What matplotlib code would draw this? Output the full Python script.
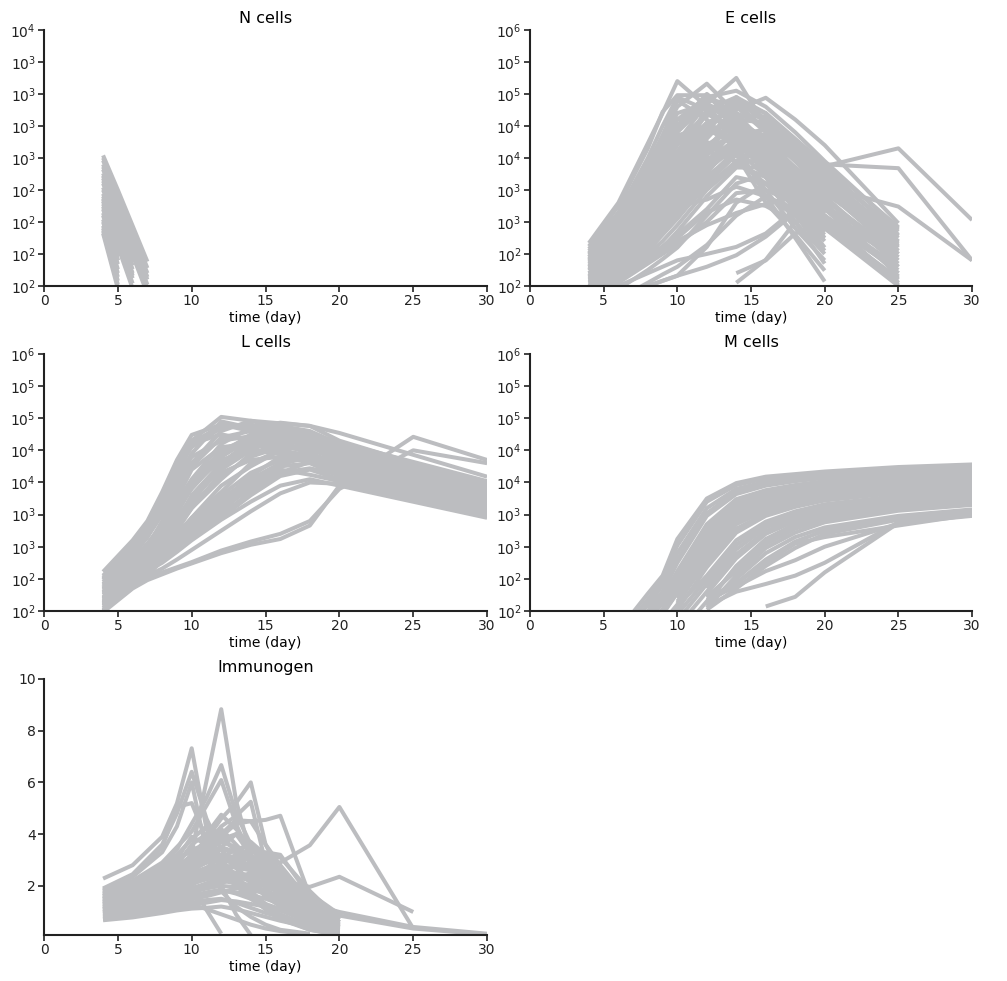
import matplotlib

matplotlib.use("Agg")

import matplotlib.pyplot as plt
import numpy as np
from matplotlib.ticker import FuncFormatter, MultipleLocator

nan = np.nan

# all cell counts are stored as log10 values; immunogen is on a linear scale
N_DAYS = [4, 5, 6, 7]
N_CELLS = [
    [3.02, 2.75, 2.47, 2.19],
    [3.00, 2.72, 2.43, 2.14],
    [2.98, 2.69, 2.39, 2.10],
    [2.95, 2.66, 2.37, 2.07],
    [2.93, 2.64, 2.34, 2.05],
    [2.91, 2.61, 2.31, 2.01],
    [2.88, 2.58, 2.28, 1.98],
    [2.84, 2.54, 2.24, 1.94],
    [2.86, 2.47, 2.08, nan],
    [2.82, 2.52, 2.22, nan],
    [2.80, 2.50, 2.19, nan],
    [2.77, 2.47, 2.16, nan],
    [2.75, 2.44, 2.13, nan],
    [2.72, 2.41, 2.10, nan],
    [2.70, 2.38, 2.06, nan],
    [2.66, 2.34, 2.02, nan],
    [2.64, 2.31, 1.98, nan],
    [2.62, 2.28, nan, nan],
    [2.60, 2.23, nan, nan],
    [2.57, 2.20, nan, nan],
    [2.55, 2.17, nan, nan],
    [2.52, 2.13, nan, nan],
    [2.50, 2.10, nan, nan],
    [2.47, 2.07, nan, nan],
    [2.45, 2.04, nan, nan],
    [2.43, 2.01, nan, nan],
    [2.41, 1.98, nan, nan],
    [2.68, 2.20, nan, nan],
]

E_DAYS = [4, 6, 8, 9, 10, 12, 14, 16, 18, 20, 25, 30]
E_CELLS = [
    [2.67, 3.30, 4.23, 4.70, 5.20, 4.80, 4.35, 3.95, 3.50, 3.00, nan, nan],
    [2.62, 3.25, 4.15, 4.72, 4.98, 4.98, 4.55, 4.10, 3.62, 3.13, nan, nan],
    [2.58, 3.15, 4.00, 4.50, 4.95, 4.75, 4.30, 3.85, 3.35, 2.85, nan, nan],
    [2.50, 3.05, 3.85, 4.35, 4.90, 4.60, 4.15, 3.70, 3.20, 2.70, nan, nan],
    [2.55, 3.10, 3.90, 4.35, 4.80, 5.16, 4.70, 4.20, 3.70, 3.05, nan, nan],
    [2.40, 2.90, 3.60, 4.05, 4.50, 5.00, 4.65, 4.25, 3.80, 3.35, 2.50, nan],
    [2.30, 2.75, 3.40, 3.80, 4.25, 4.85, 4.50, 4.05, 3.55, 3.05, 2.05, nan],
    [2.20, 2.60, 3.20, 3.60, 4.00, 4.70, 4.40, 3.90, 3.40, 2.85, nan, nan],
    [2.45, 2.95, 3.60, 4.00, 4.40, 4.85, 5.25, 4.50, 3.75, 3.00, nan, nan],
    [2.35, 2.80, 3.40, 3.75, 4.10, 4.55, 4.75, 4.94, 4.60, 4.20, 2.98, nan],
    [2.25, 2.65, 3.20, 3.55, 3.90, 4.40, 4.95, 4.60, 4.15, 3.70, 2.75, nan],
    [2.15, 2.50, 3.00, 3.35, 3.70, 4.30, 4.80, 4.40, 3.95, 3.50, 2.50, nan],
    [2.10, 2.40, 2.85, 3.15, 3.50, 4.10, 4.60, 4.30, 3.85, 3.40, 2.30, nan],
    [2.05, 2.30, 2.70, 3.00, 3.30, 3.90, 4.50, 4.20, 3.75, 3.30, 2.15, nan],
    [2.40, 2.85, 3.45, 3.85, 4.20, 4.70, 4.40, 3.70, 3.00, 2.35, nan, nan],
    [2.30, 2.70, 3.25, 3.60, 3.95, 4.45, 4.20, 3.40, 2.75, 2.07, nan, nan],
    [2.20, 2.55, 3.05, 3.40, 3.75, 4.25, 4.05, 3.30, 2.80, 2.24, nan, nan],
    [2.00, 2.30, 2.75, 3.05, 3.40, 4.00, 4.10, 3.50, 2.90, 2.40, nan, nan],
    [2.12, 2.45, 2.95, 3.30, 3.65, 4.20, 4.30, 3.80, 3.20, 2.60, nan, nan],
    [2.28, 2.62, 3.10, 3.45, 3.80, 4.35, 4.60, 4.55, 4.20, 3.80, 2.85, nan],
    [2.18, 2.48, 2.90, 3.20, 3.50, 4.05, 4.40, 4.35, 4.00, 3.60, 2.60, nan],
    [2.08, 2.35, 2.75, 3.00, 3.25, 3.80, 4.20, 4.15, 3.80, 3.40, 2.40, nan],
    [2.02, 2.22, 2.55, 2.80, 3.05, 3.60, 4.05, 4.00, 3.65, 3.20, 2.20, nan],
    [1.95, 2.10, 2.40, 2.60, 2.85, 3.40, 3.85, 3.85, 3.50, 3.10, 2.02, nan],
    [2.10, 2.40, 2.80, 3.00, 3.30, 3.80, 4.20, 4.30, 4.10, 3.87, 4.15, 3.03],
    [2.00, 2.30, 2.70, 2.95, 3.20, 3.70, 4.10, 4.20, 4.00, 3.90, 3.84, 2.40],
    [2.20, 2.50, 2.90, 3.10, 3.40, 3.90, 4.30, 4.10, 3.80, 3.55, 3.24, 2.40],
    [1.70, 1.85, 2.00, 2.08, 2.16, 2.30, 2.48, 2.77, 3.15, 2.90, 2.10, nan],
    [1.60, 1.80, 2.05, 2.18, 2.30, 2.64, 3.10, 3.40, 3.20, 2.80, nan, nan],
    [1.50, 1.75, 2.00, 2.08, 2.16, 2.61, 3.30, 3.60, 3.30, 2.90, 2.00, nan],
    [nan, nan, nan, nan, nan, nan, 2.05, 2.41, 3.00, 3.10, 2.20, nan],
    [nan, nan, nan, nan, nan, nan, 2.20, 2.40, 2.82, 3.00, 2.10, nan],
    [1.80, 2.00, 2.20, 2.30, 2.40, 2.50, 2.61, 2.82, 3.20, 3.00, 2.05, nan],
    [1.90, 2.10, 2.40, 2.55, 2.70, 2.95, 3.14, 3.28, 3.40, 3.10, 2.30, nan],
    [2.32, 2.78, 3.50, 3.95, 4.45, 4.90, 4.85, 4.45, 3.95, 3.45, 2.65, nan],
    [2.14, 2.55, 3.15, 3.50, 3.85, 4.50, 4.85, 4.70, 4.30, 3.90, 2.92, nan],
    [2.24, 2.68, 3.30, 3.70, 4.10, 4.75, 4.95, 4.70, 4.25, 3.75, 2.88, nan],
    [2.06, 2.38, 2.90, 3.25, 3.60, 4.15, 4.65, 4.65, 4.25, 3.85, 2.80, nan],
    [1.98, 2.25, 2.60, 2.85, 3.15, 3.75, 4.35, 4.45, 4.05, 3.65, 2.70, nan],
    [2.00, 2.20, 2.50, 2.70, 2.95, 3.50, 3.90, 3.70, 3.30, 2.90, nan, nan],
    [1.90, 2.15, 2.45, 2.62, 2.80, 3.20, 3.70, 3.60, 3.25, 2.95, 2.12, nan],
    [2.05, 2.28, 2.62, 2.85, 3.10, 3.55, 3.95, 3.95, 3.60, 3.25, 2.35, nan],
    [1.85, 2.05, 2.35, 2.50, 2.65, 3.00, 3.45, 3.50, 3.30, 3.00, 2.25, nan],
    [1.75, 1.95, 2.25, 2.42, 2.60, 3.10, 3.60, 3.75, 3.45, 3.05, nan, nan],
    [2.15, 2.45, 2.85, 3.10, 3.35, 3.85, 4.25, 3.90, 3.45, 3.00, nan, nan],
    [2.25, 2.60, 3.05, 3.35, 3.65, 4.10, 3.95, 3.60, 3.10, 2.55, nan, nan],
    [2.35, 2.75, 3.30, 3.65, 4.00, 4.55, 4.25, 3.80, 3.30, 2.75, nan, nan],
    [2.45, 2.95, 3.65, 4.10, 4.60, 4.70, 4.45, 4.00, 3.55, 3.08, 2.45, nan],
    [2.52, 3.05, 3.80, 4.25, 4.70, 4.85, 4.60, 4.20, 3.75, 3.25, 2.55, nan],
    [2.38, 2.85, 3.50, 3.90, 4.30, 4.65, 4.90, 4.55, 4.05, 3.55, 2.68, nan],
    [2.10, 2.45, 2.95, 3.28, 3.60, 4.05, 4.45, 4.20, 3.85, 3.50, 2.55, nan],
    [1.95, 2.20, 2.60, 2.88, 3.15, 3.65, 4.15, 4.05, 3.70, 3.35, 2.45, nan],
    [2.00, 2.25, 2.65, 2.95, 3.25, 3.35, 3.55, 3.40, 3.10, 2.75, nan, nan],
    [1.88, 2.08, 2.38, 2.55, 2.75, 3.15, 3.35, 3.25, 3.00, 2.50, nan, nan],
    [2.42, 2.92, 3.55, 3.95, 4.35, 4.50, 4.20, 3.85, 3.45, 2.95, nan, nan],
    [2.26, 2.66, 3.20, 3.55, 3.90, 4.20, 4.50, 4.35, 3.95, 3.55, 2.62, nan],
    [2.16, 2.52, 3.02, 3.38, 3.75, 4.35, 4.70, 4.50, 4.10, 3.70, 2.78, nan],
    [2.48, 2.98, 3.70, 4.15, 4.60, 4.95, 5.05, 4.80, 4.40, 3.95, 2.90, nan],
    [2.04, 2.34, 2.80, 3.10, 3.42, 3.95, 4.30, 4.10, 3.65, 3.20, nan, nan],
]

L_DAYS = [4, 6, 7, 8, 9, 10, 12, 14, 16, 18, 20, 25, 30]
L_CELLS = [
    [2.61, 3.10, 3.40, 3.85, 4.35, 4.74, 4.90, 4.80, 4.70, 4.62, 4.55, 4.28, 4.00],
    [2.55, 3.05, 3.35, 3.80, 4.30, 4.65, 5.02, 4.96, 4.92, 4.88, 4.77, 4.43, 4.09],
    [2.50, 2.95, 3.25, 3.65, 4.05, 4.45, 4.95, 4.85, 4.75, 4.65, 4.55, 4.25, 3.95],
    [2.45, 2.90, 3.15, 3.50, 3.90, 4.30, 4.80, 4.96, 4.85, 4.70, 4.55, 4.20, 3.90],
    [2.40, 2.80, 3.05, 3.35, 3.70, 4.05, 4.60, 4.85, 4.93, 4.88, 4.65, 4.30, 4.00],
    [2.35, 2.75, 2.95, 3.25, 3.55, 3.90, 4.40, 4.70, 4.80, 4.70, 4.45, 4.15, 3.85],
    [2.30, 2.70, 2.90, 3.15, 3.45, 3.75, 4.25, 4.60, 4.70, 4.55, 4.35, 4.05, 3.75],
    [2.25, 2.62, 2.82, 3.05, 3.30, 3.60, 4.05, 4.45, 4.60, 4.45, 4.25, 3.95, 3.70],
    [2.20, 2.55, 2.75, 2.95, 3.20, 3.45, 3.85, 4.30, 4.50, 4.40, 4.20, 3.90, 3.62],
    [2.15, 2.50, 2.70, 2.90, 3.10, 3.30, 3.70, 4.10, 4.40, 4.35, 4.15, 3.85, 3.58],
    [2.10, 2.45, 2.65, 2.85, 3.05, 3.20, 3.55, 3.95, 4.25, 4.30, 4.10, 3.80, 3.52],
    [2.05, 2.40, 2.60, 2.80, 3.00, 3.15, 3.45, 3.80, 4.10, 4.20, 4.05, 3.78, 3.50],
    [2.38, 2.85, 3.15, 3.60, 4.10, 4.60, 4.75, 4.65, 4.55, 4.50, 4.40, 4.10, 3.82],
    [2.28, 2.68, 2.95, 3.30, 3.75, 4.20, 4.55, 4.60, 4.50, 4.42, 4.33, 4.02, 3.72],
    [2.12, 2.52, 2.78, 3.10, 3.50, 3.95, 4.35, 4.50, 4.45, 4.38, 4.28, 3.98, 3.68],
    [2.00, 2.38, 2.62, 2.90, 3.25, 3.60, 4.15, 4.35, 4.40, 4.32, 4.22, 3.92, 3.65],
    [2.48, 2.98, 3.28, 3.72, 4.20, 4.55, 4.85, 4.90, 4.82, 4.75, 4.62, 4.32, 4.02],
    [2.33, 2.72, 3.00, 3.40, 3.85, 4.25, 4.70, 4.80, 4.75, 4.65, 4.50, 4.18, 3.88],
    [2.18, 2.58, 2.85, 3.20, 3.60, 4.00, 4.50, 4.70, 4.65, 4.58, 4.45, 4.12, 3.80],
    [2.08, 2.45, 2.72, 3.00, 3.35, 3.70, 4.25, 4.55, 4.62, 4.50, 4.38, 4.05, 3.76],
    [2.22, 2.60, 2.82, 3.10, 3.40, 3.80, 4.30, 4.65, 4.88, 4.80, 4.60, 4.22, 3.92],
    [2.02, 2.40, 2.60, 2.85, 3.15, 3.45, 3.95, 4.25, 4.50, 4.60, 4.42, 4.08, 3.78],
    [2.10, 2.44, 2.62, 2.82, 3.02, 3.25, 3.60, 3.90, 4.15, 4.22, 4.12, 3.83, 3.55],
    [2.18, 2.52, 2.70, 2.92, 3.15, 3.40, 3.80, 4.15, 4.35, 4.38, 4.25, 3.95, 3.66],
    [2.26, 2.64, 2.86, 3.10, 3.38, 3.65, 4.10, 4.40, 4.55, 4.52, 4.35, 4.02, 3.74],
    [2.35, 2.78, 3.02, 3.32, 3.65, 4.00, 4.45, 4.75, 4.85, 4.78, 4.58, 4.25, 3.94],
    [2.05, 2.42, 2.64, 2.88, 3.12, 3.35, 3.75, 4.05, 4.30, 4.45, 4.30, 3.96, 3.70],
    [2.14, 2.48, 2.68, 2.90, 3.12, 3.38, 3.68, 4.00, 4.28, 4.40, 4.28, 3.95, 3.64],
    [2.42, 2.88, 3.18, 3.55, 4.00, 4.40, 4.65, 4.72, 4.68, 4.60, 4.48, 4.16, 3.86],
    [2.52, 3.02, 3.32, 3.75, 4.25, 4.62, 4.88, 4.85, 4.78, 4.70, 4.58, 4.28, 3.98],
    [2.20, 2.56, 2.80, 3.08, 3.40, 3.75, 4.20, 4.50, 4.70, 4.62, 4.48, 4.14, 3.84],
    [2.30, 2.68, 2.92, 3.22, 3.58, 3.95, 4.40, 4.68, 4.72, 4.65, 4.52, 4.20, 3.90],
    [2.00, 2.36, 2.56, 2.78, 2.98, 3.20, 3.50, 3.85, 4.15, 4.32, 4.18, 3.88, 3.60],
    [2.12, 2.46, 2.66, 2.88, 3.08, 3.30, 3.62, 3.95, 4.20, 4.12, 4.02, 3.75, 3.50],
    [1.98, 2.35, 2.48, 2.57, 2.66, 2.74, 2.90, 3.03, 3.12, 3.33, 3.95, 4.71, 4.35],
    [2.02, 2.38, 2.50, 2.60, 2.68, 2.76, 2.94, 3.08, 3.20, 3.40, 3.90, 4.50, 4.30],
    [2.08, 2.42, 2.55, 2.66, 2.80, 2.95, 3.25, 3.55, 3.83, 4.00, 3.98, 3.73, 3.47],
    [2.15, 2.48, 2.62, 2.75, 2.92, 3.10, 3.42, 3.70, 3.95, 4.05, 3.95, 3.70, 3.45],
]

M_DAYS = [6, 7, 8, 9, 10, 12, 14, 16, 18, 20, 25, 30]
M_CELLS = [
    [1.60, 1.98, 2.27, 2.55, 3.12, 3.75, 3.99, 4.09, 4.13, 4.17, 4.24, 4.28],
    [1.55, 1.90, 2.18, 2.48, 3.02, 3.70, 3.96, 4.06, 4.11, 4.15, 4.22, 4.26],
    [1.45, 1.80, 2.10, 2.40, 2.90, 3.60, 3.90, 4.01, 4.07, 4.11, 4.18, 4.23],
    [1.35, 1.70, 2.00, 2.30, 2.80, 3.52, 3.86, 3.98, 4.05, 4.09, 4.16, 4.21],
    [nan, nan, 2.05, 2.30, 2.75, 3.48, 3.82, 3.95, 4.02, 4.07, 4.14, 4.19],
    [1.30, 1.65, 1.95, 2.22, 2.62, 3.35, 3.74, 3.88, 3.96, 4.02, 4.10, 4.15],
    [nan, nan, 1.95, 2.18, 2.55, 3.28, 3.70, 3.85, 3.93, 3.99, 4.07, 4.13],
    [nan, nan, nan, 2.12, 2.50, 3.22, 3.65, 3.81, 3.90, 3.96, 4.05, 4.11],
    [1.20, 1.55, 1.85, 2.12, 2.45, 3.15, 3.60, 3.77, 3.86, 3.93, 4.02, 4.08],
    [1.10, 1.45, 1.75, 2.03, 2.38, 3.08, 3.55, 3.73, 3.83, 3.90, 4.00, 4.06],
    [1.00, 1.35, 1.65, 1.95, 2.30, 3.02, 3.52, 3.70, 3.80, 3.87, 3.98, 4.04],
    [nan, nan, nan, 1.95, 2.28, 3.00, 3.50, 3.69, 3.79, 3.86, 3.97, 4.03],
    [nan, nan, nan, nan, 2.20, 2.95, 3.45, 3.65, 3.76, 3.84, 3.95, 4.01],
    [nan, nan, nan, nan, 2.12, 2.88, 3.40, 3.61, 3.73, 3.81, 3.92, 3.98],
    [0.90, 1.25, 1.55, 1.82, 2.10, 2.82, 3.35, 3.57, 3.69, 3.78, 3.89, 3.96],
    [nan, nan, nan, nan, 2.15, 2.75, 3.28, 3.52, 3.65, 3.75, 3.86, 3.93],
    [0.80, 1.15, 1.45, 1.72, 2.02, 2.68, 3.22, 3.48, 3.62, 3.72, 3.84, 3.91],
    [nan, nan, nan, nan, 2.08, 2.55, 3.10, 3.39, 3.55, 3.66, 3.79, 3.86],
    [0.70, 1.05, 1.35, 1.65, 1.95, 2.50, 3.03, 3.35, 3.52, 3.63, 3.76, 3.83],
    [0.60, 0.95, 1.25, 1.55, 1.85, 2.42, 2.96, 3.30, 3.48, 3.60, 3.74, 3.81],
    [nan, nan, nan, nan, nan, 2.35, 2.88, 3.24, 3.44, 3.56, 3.71, 3.78],
    [0.50, 0.85, 1.15, 1.45, 1.75, 2.30, 2.85, 3.22, 3.42, 3.55, 3.70, 3.78],
    [nan, nan, nan, nan, nan, 2.27, 2.82, 3.20, 3.40, 3.53, 3.68, 3.76],
    [nan, nan, nan, nan, nan, 2.12, 2.70, 3.12, 3.35, 3.48, 3.64, 3.72],
    [0.40, 0.75, 1.05, 1.35, 1.62, 2.15, 2.68, 3.10, 3.32, 3.46, 3.62, 3.70],
    [nan, nan, nan, nan, nan, 2.22, 2.62, 3.04, 3.28, 3.42, 3.58, 3.66],
    [nan, nan, nan, nan, nan, 2.05, 2.55, 2.98, 3.22, 3.38, 3.56, 3.65],
    [nan, nan, nan, nan, nan, 2.10, 2.50, 2.90, 3.15, 3.30, 3.48, 3.58],
    [nan, nan, nan, nan, nan, 2.12, 2.43, 2.80, 3.08, 3.25, 3.45, 3.57],
    [nan, nan, nan, nan, nan, 2.02, 2.35, 2.70, 2.98, 3.20, 3.42, 3.54],
    [nan, nan, nan, nan, nan, 2.17, 2.38, 2.62, 2.79, 3.00, 3.36, 3.52],
    [nan, nan, nan, nan, nan, 2.20, 2.43, 2.75, 3.05, 3.15, 3.33, 3.50],
    [nan, nan, nan, nan, nan, 2.08, 2.30, 2.42, 2.55, 2.75, 3.38, 3.49],
    [nan, nan, nan, nan, nan, nan, nan, 2.07, 2.22, 2.60, 3.37, 3.48],
]

IMM_DAYS = [4, 6, 8, 9, 10, 11, 12, 13, 14, 15, 16, 18, 20, 25, 30]
IMMUNOGEN = [
    [2.28, 2.80, 3.90, 5.19, 7.32, 4.20, 3.00, 2.40, 1.80, 1.30, 0.90, 0.45, 0.20, nan, nan],
    [1.90, 2.45, 3.60, 4.80, 6.41, 4.60, 3.40, 2.70, 2.10, 1.60, 1.20, 0.60, 0.30, nan, nan],
    [1.85, 2.40, 3.50, 5.05, 5.20, 3.80, 2.90, 2.20, 1.70, 1.20, 0.85, 0.40, 0.15, nan, nan],
    [1.80, 2.35, 3.30, 4.30, 6.00, 3.30, 1.80, 1.20, 0.80, 0.50, 0.30, 0.15, nan, nan, nan],
    [1.60, 2.05, 2.80, 3.40, 4.40, 5.40, 6.67, 4.80, 3.60, 2.80, 2.00, 1.00, 0.40, nan, nan],
    [1.50, 1.90, 2.60, 3.10, 3.30, 6.05, 8.83, 5.30, 3.20, 2.30, 1.60, 0.80, 0.30, nan, nan],
    [1.70, 2.20, 2.90, 3.50, 4.10, 5.10, 6.09, 4.40, 3.10, 2.30, 1.70, 0.90, 0.35, nan, nan],
    [1.40, 1.75, 2.30, 2.70, 3.20, 3.80, 4.60, 5.20, 6.00, 3.60, 2.80, 1.40, 0.60, nan, nan],
    [1.30, 1.65, 2.20, 2.60, 3.00, 3.60, 4.30, 4.70, 5.25, 2.90, 2.20, 1.20, 0.50, nan, nan],
    [1.25, 1.60, 2.10, 2.50, 2.90, 3.40, 4.00, 4.54, 4.50, 4.55, 4.71, 1.60, 0.80, nan, nan],
    [1.20, 1.55, 2.00, 2.30, 2.60, 2.90, 3.20, 3.10, 3.00, 2.95, 2.90, 3.57, 5.05, 0.35, nan],
    [1.10, 1.40, 1.80, 2.00, 2.20, 2.40, 2.60, 2.50, 2.40, 2.30, 2.20, 1.96, 2.35, 0.99, nan],
    [1.00, 1.30, 1.65, 1.85, 2.05, 2.30, 2.50, 2.40, 2.20, 2.00, 1.80, 1.30, 0.99, 0.41, 0.15],
    [0.95, 1.20, 1.55, 1.70, 1.90, 2.10, 2.30, 2.20, 2.00, 1.80, 1.60, 1.10, 0.85, 0.35, 0.12],
    [1.75, 2.15, 2.70, 3.00, 3.40, 3.60, 3.80, 3.40, 2.90, 2.30, 1.70, 0.80, 0.30, nan, nan],
    [1.65, 2.00, 2.50, 2.80, 3.10, 3.30, 3.50, 3.30, 3.00, 2.50, 2.00, 1.00, 0.40, nan, nan],
    [1.55, 1.90, 2.35, 2.60, 2.85, 3.05, 3.20, 3.00, 2.70, 2.30, 1.90, 1.00, 0.50, nan, nan],
    [1.45, 1.80, 2.20, 2.45, 2.70, 2.90, 3.05, 2.90, 2.70, 2.50, 2.20, 1.20, 0.60, nan, nan],
    [1.35, 1.70, 2.05, 2.30, 2.50, 2.70, 2.80, 2.70, 2.60, 2.40, 2.10, 1.10, 0.50, nan, nan],
    [1.20, 1.50, 1.85, 2.05, 2.25, 2.45, 2.60, 2.50, 2.30, 2.10, 1.80, 1.00, 0.45, nan, nan],
    [1.05, 1.35, 1.70, 1.90, 2.10, 2.25, 2.40, 2.35, 2.20, 2.00, 1.70, 0.90, 0.40, nan, nan],
    [0.90, 1.15, 1.45, 1.60, 1.75, 1.90, 2.00, 1.95, 1.85, 1.70, 1.50, 0.90, 0.45, nan, nan],
    [0.80, 1.00, 1.25, 1.40, 1.55, 1.70, 1.80, 1.75, 1.65, 1.50, 1.30, 0.80, 0.40, nan, nan],
    [0.70, 0.85, 1.05, 1.15, 1.25, 1.35, 1.45, 1.40, 1.30, 1.20, 1.05, 0.60, 0.30, nan, nan],
    [0.67, 0.78, 0.95, 1.05, 1.12, 1.15, 1.20, 1.10, 0.95, 0.80, 0.65, 0.40, 0.20, nan, nan],
    [1.00, 1.25, 1.60, 1.80, 2.05, 1.07, 0.15, nan, nan, nan, nan, nan, nan, nan, nan],
    [1.10, 1.40, 1.90, 2.30, 2.80, 3.20, 2.00, 0.90, 0.10, nan, nan, nan, nan, nan, nan],
    [1.15, 1.45, 1.95, 2.25, 2.60, 3.00, 3.50, 4.00, 3.20, 2.50, 1.80, 0.60, 0.20, nan, nan],
    [1.30, 1.60, 2.10, 2.45, 2.90, 3.50, 4.20, 3.60, 3.00, 3.20, 3.10, 1.80, 0.70, nan, nan],
    [1.50, 1.85, 2.40, 2.80, 3.60, 4.00, 4.75, 4.20, 3.50, 2.70, 2.00, 1.00, 0.40, nan, nan],
    [1.35, 1.65, 2.15, 2.50, 3.00, 3.50, 3.90, 4.40, 4.50, 3.60, 2.50, 1.20, 0.50, nan, nan],
    [1.60, 1.95, 2.45, 2.75, 3.05, 3.40, 3.70, 3.50, 3.20, 2.80, 2.30, 1.20, 0.55, nan, nan],
    [1.48, 1.82, 2.25, 2.50, 2.75, 3.10, 3.40, 3.30, 3.10, 2.70, 2.40, 1.40, 0.70, nan, nan],
    [1.28, 1.58, 1.95, 2.15, 2.35, 2.60, 2.90, 3.00, 2.80, 2.60, 2.30, 1.30, 0.60, nan, nan],
    [1.12, 1.40, 1.75, 1.95, 2.15, 2.35, 2.70, 2.80, 2.60, 2.20, 1.90, 0.90, 0.35, nan, nan],
    [0.98, 1.22, 1.55, 1.72, 1.90, 2.05, 2.20, 2.10, 1.95, 1.75, 1.55, 0.70, 0.25, nan, nan],
    [0.85, 1.05, 1.35, 1.50, 1.62, 1.75, 1.85, 1.70, 1.50, 1.30, 1.10, 0.55, 0.20, nan, nan],
    [0.75, 0.92, 1.15, 1.25, 1.35, 1.45, 1.50, 1.35, 1.15, 0.95, 0.80, 0.45, 0.15, nan, nan],
    [0.72, 0.88, 1.08, 1.18, 1.28, 1.10, 0.90, 0.70, 0.50, 0.35, 0.25, 0.12, nan, nan, nan],
    [1.40, 1.75, 2.25, 2.55, 3.00, 3.30, 3.20, 2.70, 2.20, 1.70, 1.30, 0.60, 0.25, nan, nan],
    [1.52, 1.88, 2.45, 2.90, 3.50, 3.00, 2.50, 2.00, 1.50, 1.10, 0.75, 0.30, 0.10, nan, nan],
    [1.62, 2.00, 2.60, 3.05, 3.90, 3.60, 2.80, 2.20, 1.60, 1.10, 0.70, 0.30, 0.12, nan, nan],
    [1.18, 1.45, 1.85, 2.10, 2.40, 2.70, 3.10, 3.40, 3.60, 3.10, 2.40, 1.10, 0.45, nan, nan],
    [1.08, 1.32, 1.68, 1.90, 2.20, 2.50, 2.90, 3.20, 3.30, 3.30, 3.20, 1.60, 0.60, nan, nan],
    [0.92, 1.12, 1.40, 1.58, 1.75, 1.95, 2.10, 2.30, 2.50, 2.60, 2.50, 1.70, 0.90, nan, nan],
    [0.82, 0.98, 1.22, 1.35, 1.48, 1.60, 1.75, 1.90, 2.00, 2.00, 1.90, 1.40, 0.80, nan, nan],
    [1.70, 2.10, 2.75, 3.20, 3.80, 4.30, 4.00, 3.30, 2.60, 1.90, 1.40, 0.70, 0.30, nan, nan],
    [1.38, 1.70, 2.20, 2.55, 2.95, 3.40, 3.80, 4.00, 3.70, 3.20, 2.60, 1.50, 0.70, nan, nan],
]

LINE_COLOR = "#bcbdc0"
AXIS_COLOR = "#222222"


def log_label(value, pos):
    return f"$10^{{{int(value)}}}$"


def draw_panel(ax, days, series, title, y_range, y_step, log_scale=True):
    for values in series:
        ax.plot(days, values, color=LINE_COLOR, lw=2.9, solid_capstyle="butt")
    ax.set_title(title, fontsize=11.5, pad=5)
    ax.set_xlim(0, 30)
    ax.set_xticks(range(0, 31, 5))
    ax.set_ylim(*y_range)
    ax.yaxis.set_major_locator(MultipleLocator(y_step))
    if log_scale:
        ax.yaxis.set_major_formatter(FuncFormatter(log_label))
    ax.set_xlabel("time (day)", fontsize=10, labelpad=2)
    for side in ("top", "right"):
        ax.spines[side].set_visible(False)
    for side in ("left", "bottom"):
        ax.spines[side].set_color(AXIS_COLOR)
        ax.spines[side].set_linewidth(1.5)
    ax.tick_params(colors=AXIS_COLOR, labelsize=10, length=4, width=1.2, pad=2)


fig = plt.figure(figsize=(10.07, 9.81), dpi=100)

ax_n = fig.add_axes([0.0437, 0.7085, 0.440, 0.261])
ax_e = fig.add_axes([0.5263, 0.7085, 0.439, 0.261])
ax_l = fig.add_axes([0.0437, 0.3772, 0.440, 0.262])
ax_m = fig.add_axes([0.5263, 0.3772, 0.439, 0.262])
ax_i = fig.add_axes([0.0437, 0.0469, 0.440, 0.261])

draw_panel(ax_n, N_DAYS, N_CELLS, "N cells", (2, 4), 0.25)
draw_panel(ax_e, E_DAYS, E_CELLS, "E cells", (2, 6), 0.5)
draw_panel(ax_l, L_DAYS, L_CELLS, "L cells", (2, 6), 0.5)
draw_panel(ax_m, M_DAYS, M_CELLS, "M cells", (2, 6), 0.5)
draw_panel(ax_i, IMM_DAYS, IMMUNOGEN, "Immunogen", (0.1, 10), 2, log_scale=False)

fig.savefig("out.png", dpi=100)
